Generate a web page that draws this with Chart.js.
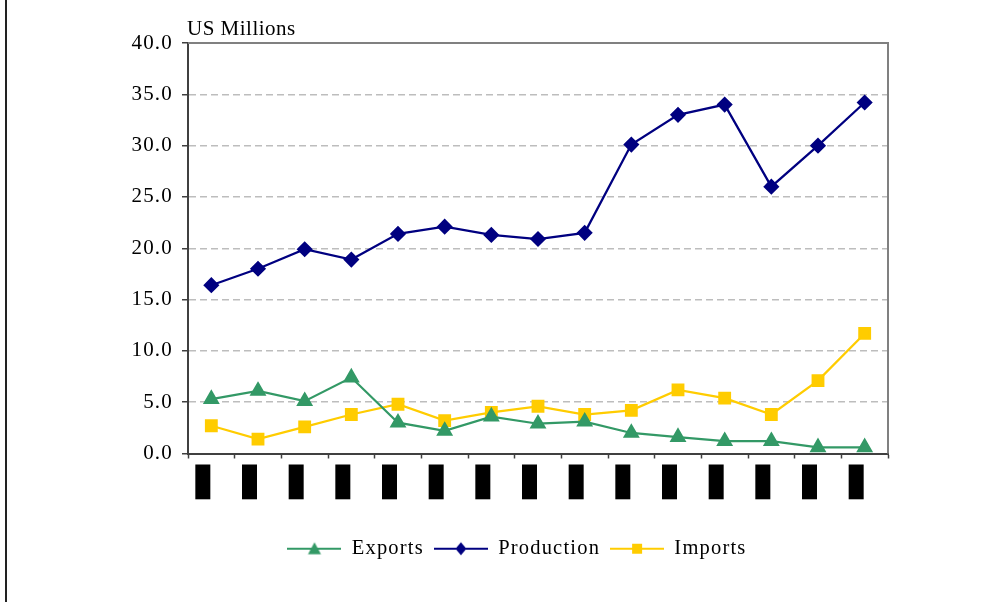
<!DOCTYPE html>
<html>
<head>
<meta charset="utf-8">
<script src="https://cdn.jsdelivr.net/npm/chart.js@4.4.1/dist/chart.umd.min.js"></script>
<style>
  html, body { margin: 0; padding: 0; background: #fff; }
  #wrap { position: relative; width: 998px; height: 602px; }
  #edge { position: absolute; left: 5px; top: 0; width: 2px; height: 602px; background: #222; }
</style>
</head>
<body>
<div id="wrap">
  <canvas id="tradeChart" width="998" height="602"></canvas>
  <div id="edge"></div>
</div>
<script>
// categories (labels are blacked out in the source picture)
const years = ['1990', '1991', '1992', '1993', '1994', '1995', '1996', '1997',
  '1998', '1999', '2000', '2001', '2002', '2003', '2004'];

// US Millions
const exportsVals = [5.3, 6.1, 5.1, 7.4, 3.0, 2.2, 3.6, 2.9, 3.1, 2.0, 1.6, 1.2, 1.2, 0.6, 0.6];
const productionVals = [16.4, 18.0, 19.9, 18.9, 21.4, 22.1, 21.3, 20.9, 21.5, 30.1, 33.0, 34.0, 26.0, 30.0, 34.2];
const importsVals = [2.7, 1.4, 2.6, 3.8, 4.8, 3.2, 4.0, 4.6, 3.8, 4.2, 6.2, 5.4, 3.8, 7.1, 11.7];

const yTicks = [0, 5, 10, 15, 20, 25, 30, 35, 40];

const serif = '"Liberation Serif", "Times New Roman", serif';

// legend swatch: line with the marker in the middle
function swatch(color, shape) {
  const c = document.createElement('canvas');
  c.width = 54; c.height = 16;
  const g = c.getContext('2d');
  g.strokeStyle = color; g.fillStyle = color; g.lineWidth = 2;
  g.beginPath(); g.moveTo(0, 8); g.lineTo(54, 8); g.stroke();
  g.beginPath();
  if (shape === 'triangle') {
    g.moveTo(27, 1.5); g.lineTo(33.5, 13.5); g.lineTo(20.5, 13.5);
  } else if (shape === 'diamond') {
    g.moveTo(27, 1.5); g.lineTo(32.5, 8); g.lineTo(27, 14.5); g.lineTo(21.5, 8);
  } else {
    g.rect(22, 3, 10, 10);
  }
  g.closePath(); g.fill();
  return c;
}

const spacing = {
  id: 'spacing',
  beforeUpdate(chart) { chart.ctx.letterSpacing = '1.2px'; },
  beforeDraw(chart) { chart.ctx.letterSpacing = '1.2px'; }
};

// legend sits a bit right of the canvas centre
const legendShift = {
  id: 'legendShift',
  afterLayout(chart) {
    chart.legend.left += 73;
    chart.legend.right += 73;
  }
};

const frame = {
  id: 'frame',
  afterDraw(chart) {
    const { ctx, chartArea: a } = chart;
    ctx.save();
    ctx.strokeStyle = '#808080';
    ctx.lineWidth = 2;
    ctx.beginPath();
    ctx.moveTo(a.left, a.top);
    ctx.lineTo(a.right, a.top);
    ctx.lineTo(a.right, a.bottom);
    ctx.stroke();
    ctx.letterSpacing = '0.5px';
    ctx.fillStyle = '#000';
    ctx.font = '21px ' + serif;
    ctx.textAlign = 'left';
    ctx.textBaseline = 'alphabetic';
    ctx.fillText('US Millions', a.left - 1, a.top - 8);
    ctx.restore();
  }
};

new Chart(document.getElementById('tradeChart'), {
  type: 'line',
  data: {
    labels: years,
    datasets: [
      {
        label: 'Exports',
        data: exportsVals,
        borderColor: '#339966',
        backgroundColor: '#339966',
        borderWidth: 2.25,
        pointStyle: 'triangle',
        pointRadius: 7.5,
        tension: 0
      },
      {
        label: 'Production',
        data: productionVals,
        borderColor: '#000080',
        backgroundColor: '#000080',
        borderWidth: 2.25,
        pointStyle: 'rectRot',
        pointRadius: 6.5,
        tension: 0
      },
      {
        label: 'Imports',
        data: importsVals,
        borderColor: '#FFCC00',
        backgroundColor: '#FFCC00',
        borderWidth: 2.25,
        pointStyle: 'rect',
        pointRadius: 7.5,
        tension: 0
      }
    ]
  },
  options: {
    responsive: false,
    animation: false,
    layout: { padding: { left: 0, right: 110, top: 43, bottom: 33 } },
    scales: {
      x: {
        offset: true,
        afterFit: s => { s.height = 75; },
        grid: { drawOnChartArea: false, offset: true, tickLength: 5, tickColor: '#404040', tickWidth: 1.5 },
        border: { color: '#404040', width: 2 },
        ticks: {
          autoSkip: false,
          maxRotation: 90,
          minRotation: 90,
          padding: 8,
          labelOffset: -15,
          color: '#000',
          font: { family: serif, size: 13, lineHeight: 1 },
          showLabelBackdrop: true,
          backdropColor: '#000',
          backdropPadding: { left: 2, right: 2, top: 1, bottom: 1 }
        }
      },
      y: {
        min: 0,
        max: 40,
        afterFit: s => { s.width = 188; },
        afterBuildTicks: s => { s.ticks = yTicks.map(v => ({ value: v })); },
        grid: {
          color: c => (c.tick && (c.tick.value === 0 || c.tick.value === 40)) ? 'rgba(0,0,0,0)' : '#bdbdbd',
          lineWidth: 1.5,
          tickLength: 6,
          tickColor: '#404040',
          tickWidth: 1.5
        },
        border: { color: '#404040', width: 2, dash: [7, 4] },
        ticks: {
          padding: 9,
          color: '#000',
          font: { family: serif, size: 21 },
          callback: v => Number(v).toFixed(1)
        }
      }
    },
    plugins: {
      tooltip: { enabled: false },
      legend: {
        position: 'bottom',
        labels: {
          usePointStyle: true,
          pointStyleWidth: 54,
          padding: 10,
          color: '#000',
          font: { family: serif, size: 20.5 },
          generateLabels: chart => chart.data.datasets.map((d, i) => ({
            text: d.label,
            datasetIndex: i,
            pointStyle: swatch(d.borderColor, ['triangle', 'diamond', 'square'][i]),
            fillStyle: d.borderColor,
            strokeStyle: d.borderColor,
            lineWidth: 0,
            fontColor: '#000'
          }))
        }
      }
    }
  },
  plugins: [spacing, legendShift, frame]
});
</script>
</body>
</html>
